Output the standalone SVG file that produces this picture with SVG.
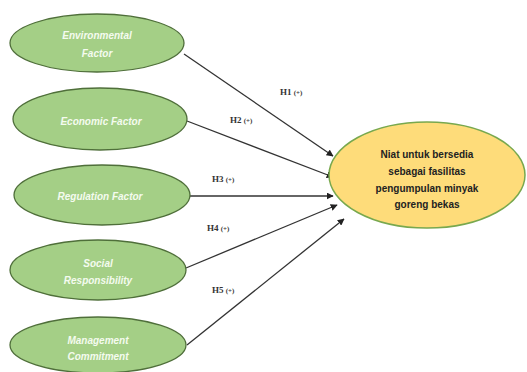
<svg xmlns="http://www.w3.org/2000/svg" width="527" height="372" viewBox="0 0 527 372">
<defs>
<marker id="ah" viewBox="0 0 10 10" refX="9" refY="5" markerWidth="7" markerHeight="7" orient="auto" markerUnits="userSpaceOnUse">
<path d="M0,0 L10,5 L0,10 z" fill="#222"/>
</marker>
</defs>
<style>
.g{fill:#a4cf86;stroke:#4f6f3a;stroke-width:1.3}
.y{fill:#fedc7a;stroke:#78a84e;stroke-width:1.5}
.t{font-family:"Liberation Sans",Arial,sans-serif;font-size:10px;font-weight:bold;font-style:italic;fill:#f4fbef;text-anchor:middle}
.ty{font-family:"Liberation Sans",Arial,sans-serif;font-size:10px;font-weight:bold;fill:#222;text-anchor:middle}
.c{stroke:#333;stroke-width:1.3;fill:none;marker-end:url(#ah)}
.l{font-family:"Liberation Serif","Times New Roman",serif;font-size:9px;font-weight:bold;fill:#333}
</style>
<rect width="527" height="372" fill="#ffffff"/>
<g id="connectors">
<line class="c" x1="184" y1="54" x2="333" y2="156"/>
<line class="c" x1="187" y1="121" x2="333" y2="177"/>
<line class="c" x1="190" y1="196" x2="333" y2="196"/>
<line class="c" x1="186" y1="268" x2="337" y2="205"/>
<line class="c" x1="187" y1="345" x2="344" y2="219"/>
<text class="l" x="280" y="95">H1 <tspan font-size="7">(+)</tspan></text>
<text class="l" x="230" y="123">H2 <tspan font-size="7">(+)</tspan></text>
<text class="l" x="212" y="182">H3 <tspan font-size="7">(+)</tspan></text>
<text class="l" x="207" y="231">H4 <tspan font-size="7">(+)</tspan></text>
<text class="l" x="212" y="293">H5 <tspan font-size="7">(+)</tspan></text>
</g>
<g id="env">
<ellipse class="g" cx="97" cy="43" rx="87" ry="29"/>
<text class="t" x="97" y="39">Environmental</text>
<text class="t" x="97" y="57">Factor</text>
</g>
<g id="eco">
<ellipse class="g" cx="100" cy="119" rx="87" ry="31"/>
<text class="t" x="101" y="125">Economic Factor</text>
</g>
<g id="reg">
<ellipse class="g" cx="102" cy="195" rx="88" ry="30"/>
<text class="t" x="100" y="200">Regulation Factor</text>
</g>
<g id="soc">
<ellipse class="g" cx="98" cy="270" rx="88" ry="30"/>
<text class="t" x="98" y="267">Social</text>
<text class="t" x="98" y="284">Responsibility</text>
</g>
<g id="man">
<ellipse class="g" cx="98" cy="345" rx="88" ry="28"/>
<text class="t" x="98" y="344">Management</text>
<text class="t" x="98" y="360">Commitment</text>
</g>
<g id="niat">
<ellipse class="y" cx="427" cy="175" rx="98" ry="53"/>
<text class="ty" x="427" y="158">Niat untuk bersedia</text>
<text class="ty" x="427" y="175">sebagai fasilitas</text>
<text class="ty" x="427" y="192">pengumpulan minyak</text>
<text class="ty" x="427" y="208">goreng bekas</text>
</g>
</svg>
